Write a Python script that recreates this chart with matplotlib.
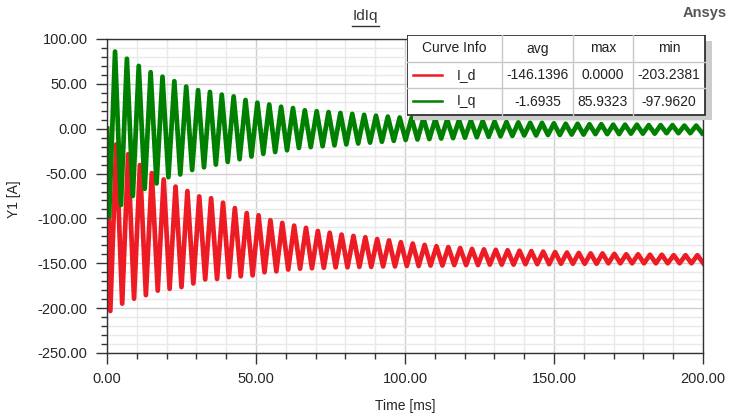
import matplotlib.pyplot as plt
import numpy as np
from matplotlib.lines import Line2D
from matplotlib.patches import Rectangle
from matplotlib.ticker import MultipleLocator, FormatStrFormatter

plt.rcParams['font.family'] = ['Liberation Sans', 'DejaVu Sans']

# values (peaks / troughs of every cycle)
period = 3.98      # ms between two peaks
t_first = 2.7      # time of the first I_q peak [ms]
lag = 0.4          # I_d lags I_q by this much [ms]

iq_peak = [86, 78, 70, 63, 58, 53, 47, 43, 41, 38, 36, 32, 29, 27, 24.5, 23, 20.5,
           19.5, 18.5, 17.5, 16.5, 15.5, 14.5, 13.5, 12.5, 12, 11.5, 10.5, 10, 9.5,
           9, 8.5, 8, 7.5, 7, 6.5, 6.5, 6, 5.5, 5.5, 5, 5, 4.5, 4.5, 4.5, 4, 4, 4,
           3.5, 3.5]
iq_trough = [-98, -85, -75, -67, -61, -54, -51, -46, -43, -40, -37, -34, -31, -28,
             -26, -24, -21.5, -20.5, -19.5, -18.5, -17.5, -16.5, -15.5, -14.5, -13.5,
             -12.5, -12, -11.5, -11, -10.5, -10, -9.5, -9, -8.5, -8, -7.5, -7.5, -7,
             -7, -6.5, -6.5, -6, -6, -6, -5.5, -5.5, -5.5, -5, -5, -5, -5]

id_peak = [-17.5, -28.5, -40.5, -49.5, -56.5, -64.5, -69.5, -75.5, -77.5, -82.5,
           -88.5, -94, -96.5, -102, -105, -108, -110.5, -114, -116, -118, -119.5,
           -121, -123, -124.5, -126.5, -128, -129.5, -131, -132, -133, -134, -134.5,
           -135, -135.5, -136, -136.5, -137, -137.5, -138, -138.5, -139, -139,
           -139.5, -140, -140, -140.5, -140.5, -141, -141, -141]
id_trough = [-203.2, -195, -189.5, -185.5, -180.5, -178.5, -176.5, -172.5, -168,
             -167.5, -165.5, -164.5, -163.5, -160, -159, -157, -156, -155.5, -155,
             -154.5, -154.5, -154, -154, -153.5, -153.5, -153, -153, -152.5, -152.5,
             -152, -152, -152, -151.5, -151.5, -151.5, -151, -151, -151, -150.5,
             -150.5, -150.5, -150.5, -150, -150, -150, -150, -150, -150, -150, -150,
             -150]

curve_names = ['I_d', 'I_q']
stat_cols = ['avg', 'max', 'min']
stats = {'I_d': ['-146.1396', '0.0000', '-203.2381'],
         'I_q': ['-1.6935', '85.9323', '-97.9620']}


def build(peaks, troughs, t0, shift):
    k = np.arange(len(peaks))
    tp = t0 + shift + period * k
    tt = tp + period / 2
    t = [0.0, t0 + shift - period / 2]
    y = [0.0, troughs[0]]
    for i in range(len(peaks)):
        t += [tp[i], tt[i]]
        y += [peaks[i], troughs[i + 1]]
    return np.array(t), np.array(y)


t_q, y_q = build(iq_peak, iq_trough, t_first, 0.0)
t_d, y_d = build(id_peak, id_trough, t_first, lag)

W, H = 735, 419
fig = plt.figure(figsize=(W / 100, H / 100), dpi=100)
ax = fig.add_axes([107 / W, 1 - 353 / H, 596 / W, 314 / H])

red = '#ed1c24'
green = '#008000'
ax.plot(t_d, y_d, color=red, lw=3.4, solid_joinstyle='round')
ax.plot(t_q, y_q, color=green, lw=3.4, solid_joinstyle='round')

ax.set_xlim(0, 200)
ax.set_ylim(-250, 100)
ax.xaxis.set_major_locator(MultipleLocator(50))
ax.xaxis.set_minor_locator(MultipleLocator(10))
ax.yaxis.set_major_locator(MultipleLocator(50))
ax.yaxis.set_minor_locator(MultipleLocator(10))
ax.xaxis.set_major_formatter(FormatStrFormatter('%.2f'))
ax.yaxis.set_major_formatter(FormatStrFormatter('%.2f'))
ax.grid(which='major', color='#cfcfcf', lw=1.0)
ax.grid(which='minor', color='#e9e9e9', lw=1.0)
ax.set_axisbelow(True)
ax.tick_params(which='major', direction='out', length=8, width=1, pad=6,
               labelsize=10.5, labelcolor='#262626', color='#333333')
ax.tick_params(which='minor', direction='out', length=4, width=1, color='#333333')
for s in ax.spines.values():
    s.set_color('#333333')
    s.set_linewidth(1)

ax.set_xlabel('Time [ms]', fontsize=10, color='#262626')
ax.set_ylabel('Y1 [A]', fontsize=10, color='#262626')
ax.xaxis.set_label_coords(0.5, -0.145)
ax.yaxis.set_label_coords(-0.145, 0.49)

# title + logo
fig.text(365 / W, 1 - 16 / H, 'IdIq', ha='center', va='center', fontsize=11,
         color='#333333')
fig.add_artist(Line2D([352 / W, 379 / W], [1 - 26 / H, 1 - 26 / H], color='#333333', lw=1))
fig.text(727 / W, 1 - 13 / H, 'Ansys', ha='right', va='center', fontsize=10.5,
         color='#555555', fontweight='bold')

# curve info table, drawn in pixel coordinates
tx0, tx1, ty0, ty1 = 407, 713, 35, 121
tab = fig.add_axes([tx0 / W, 1 - ty1 / H, (tx1 - tx0) / W, (ty1 - ty0) / H])
tab.set_xlim(tx0, tx1)
tab.set_ylim(ty1, ty0)
tab.axis('off')
tab.add_patch(Rectangle((413, 41), 299, 79, color='#cccccc', lw=0))
tab.add_patch(Rectangle((407, 35), 298, 80, facecolor='white', edgecolor='#222222', lw=1.2))
col_x = [407, 502, 573, 633, 705]
row_y = [35, 62, 88, 115]
for x in col_x[1:-1]:
    tab.plot([x, x], [35, 115], color='#c8c8c8', lw=1)
for y in row_y[1:-1]:
    tab.plot([407, 705], [y, y], color='#c8c8c8', lw=1)

fs = 10
centers = [(col_x[i] + col_x[i + 1]) / 2 for i in range(4)]
tab.text(centers[0], (row_y[0] + row_y[1]) / 2, 'Curve Info', ha='center', va='center',
         fontsize=fs, color='#222222')
for i, c in enumerate(stat_cols):
    tab.text(centers[i + 1], (row_y[0] + row_y[1]) / 2, c, ha='center', va='center',
             fontsize=fs, color='#222222')
for r, (name, col) in enumerate(zip(curve_names, [red, green])):
    yc = (row_y[r + 1] + row_y[r + 2]) / 2
    tab.plot([413, 442], [yc, yc], color=col, lw=1.8)
    tab.text(457, yc, name, ha='left', va='center', fontsize=fs, color='#222222')
    for i, v in enumerate(stats[name]):
        tab.text(centers[i + 1], yc, v, ha='center', va='center', fontsize=fs,
                 color='#222222')

plt.savefig('out.png', dpi=100)
